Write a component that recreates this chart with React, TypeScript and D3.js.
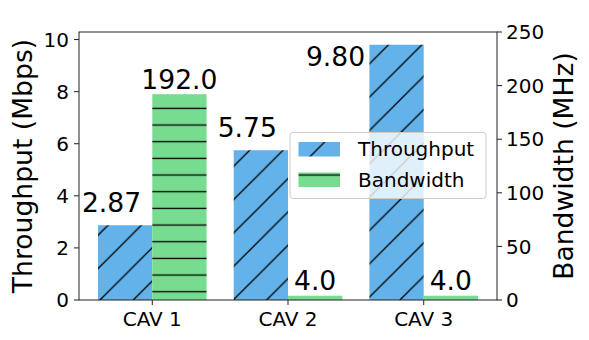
import React from "react";
import * as d3 from "d3";

// data
const categories = ["CAV 1", "CAV 2", "CAV 3"];
const throughput = [2.87, 5.75, 9.8]; // Mbps, left axis
const bandwidth = [192.0, 4.0, 4.0]; // MHz, right axis
const throughputLabels = ["2.87", "5.75", "9.80"];
const bandwidthLabels = ["192.0", "4.0", "4.0"];
// label anchor (offset in category units, value units) for throughput annotations
const throughputLabelPos = [
  [-0.3, 3.37],
  [-0.3, 6.25],
  [-0.65, 9.0],
];
const leftTicks = [0, 2, 4, 6, 8, 10];
const rightTicks = [0, 50, 100, 150, 200, 250];

const W = 589;
const H = 340;
const margin = { top: 32, right: 92, bottom: 40, left: 79 };
const blue = "#63b2ea";
const green = "#78dc90";
const font = "DejaVu Sans, sans-serif";

const App = () => {
  const innerRight = W - margin.right;
  const innerBottom = H - margin.bottom;

  // x in category units, bars of width 0.4 at i-0.2 and i+0.2
  const x = d3
    .scaleLinear()
    .domain([-0.4 - 0.14, 2.4 + 0.14])
    .range([margin.left, innerRight]);
  const yLeft = d3
    .scaleLinear()
    .domain([0, 9.8 * 1.05])
    .range([innerBottom, margin.top]);
  const yRight = d3
    .scaleLinear()
    .domain([0, 250])
    .range([innerBottom, margin.top]);

  const barW = x(0.4) - x(0);
  const diag = 33.33;
  const horiz = 16.67;

  return (
    <svg
      width={W}
      height={H}
      style={{ position: "absolute", left: 0, top: 0, background: "white" }}
      fontFamily={font}
    >
      <defs>
        <pattern id="hatchDiag" patternUnits="userSpaceOnUse" width={diag} height={diag}>
          <rect width={diag} height={diag} fill={blue} />
          <path
            d={`M0,${diag} L${diag},0 M-5,5 L5,-5 M${diag - 5},${diag + 5} L${diag + 5},${diag - 5}`}
            stroke="#000"
            strokeWidth={1.3}
          />
        </pattern>
        <pattern id="hatchHoriz" patternUnits="userSpaceOnUse" width={20} height={horiz}>
          <rect width={20} height={horiz} fill={green} />
          <line x1={0} x2={20} y1={8.33} y2={8.33} stroke="#000" strokeWidth={1.3} />
        </pattern>
      </defs>

      {/* bars */}
      {categories.map((c, i) => (
        <g key={c}>
          <rect
            x={x(i - 0.4)}
            y={yLeft(throughput[i])}
            width={barW}
            height={yLeft(0) - yLeft(throughput[i])}
            fill="url(#hatchDiag)"
          />
          <rect
            x={x(i)}
            y={yRight(bandwidth[i])}
            width={barW}
            height={yRight(0) - yRight(bandwidth[i])}
            fill="url(#hatchHoriz)"
          />
        </g>
      ))}

      {/* value labels */}
      {categories.map((c, i) => (
        <g key={c + "-lbl"} fontSize={26.6} textAnchor="middle" fill="#000">
          <text x={x(i + throughputLabelPos[i][0])} y={yLeft(throughputLabelPos[i][1])}>
            {throughputLabels[i]}
          </text>
          <text x={x(i + 0.2)} y={yRight(bandwidth[i] + 5)}>
            {bandwidthLabels[i]}
          </text>
        </g>
      ))}

      {/* frame */}
      <rect
        x={margin.left}
        y={margin.top}
        width={innerRight - margin.left}
        height={innerBottom - margin.top}
        fill="none"
        stroke="#222"
        strokeWidth={1}
      />

      {/* left axis */}
      {leftTicks.map((t) => (
        <g key={"l" + t}>
          <line x1={margin.left - 5} x2={margin.left} y1={yLeft(t)} y2={yLeft(t)} stroke="#222" />
          <text
            x={margin.left - 10}
            y={yLeft(t)}
            dy="0.36em"
            textAnchor="end"
            fontSize={20}
          >
            {t}
          </text>
        </g>
      ))}

      {/* right axis */}
      {rightTicks.map((t) => (
        <g key={"r" + t}>
          <line x1={innerRight} x2={innerRight + 5} y1={yRight(t)} y2={yRight(t)} stroke="#222" />
          <text x={innerRight + 9} y={yRight(t)} dy="0.36em" fontSize={20}>
            {t}
          </text>
        </g>
      ))}

      {/* x axis */}
      {categories.map((c, i) => (
        <g key={"x" + c}>
          <line x1={x(i)} x2={x(i)} y1={innerBottom} y2={innerBottom + 5} stroke="#222" />
          <text x={x(i)} y={innerBottom + 26} textAnchor="middle" fontSize={20}>
            {c}
          </text>
        </g>
      ))}

      {/* axis titles */}
      <text
        transform={`translate(32,${(margin.top + innerBottom) / 2}) rotate(-90)`}
        textAnchor="middle"
        fontSize={26.6}
      >
        Throughput (Mbps)
      </text>
      <text
        transform={`translate(573,${(margin.top + innerBottom) / 2}) rotate(-90)`}
        textAnchor="middle"
        fontSize={26.6}
      >
        Bandwidth (MHz)
      </text>

      {/* legend */}
      <g>
        <rect
          x={290}
          y={132.5}
          width={196}
          height={66}
          rx={3}
          fill="white"
          fillOpacity={0.8}
          stroke="#cccccc"
        />
        <rect x={298.5} y={142} width={41.5} height={14.5} fill="url(#hatchDiag)" />
        <text x={358} y={156} fontSize={20}>
          Throughput
        </text>
        <rect x={298.5} y={172.5} width={41.5} height={14.5} fill="url(#hatchHoriz)" />
        <text x={358} y={186.7} fontSize={20}>
          Bandwidth
        </text>
      </g>
    </svg>
  );
};

export default App;
